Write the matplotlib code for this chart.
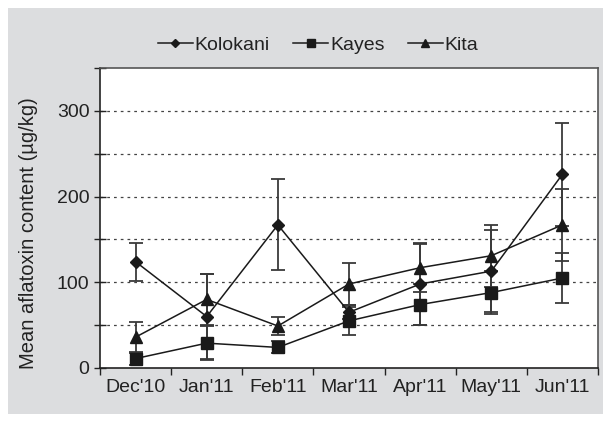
import matplotlib
matplotlib.use("Agg")
import matplotlib.pyplot as plt
from matplotlib.patches import Rectangle
import numpy as np

plt.rcParams['font.family'] = ['Liberation Sans', 'DejaVu Sans']

months = ["Dec'10", "Jan'11", "Feb'11", "Mar'11", "Apr'11", "May'11", "Jun'11"]
kolokani = [124, 60, 167, 65, 98, 113, 226]
kolokani_err = [22, 50, 53, 8, 48, 48, 60]
kayes = [11, 29, 24, 55, 74, 88, 105]
kayes_err = [8, 20, 7, 16, 24, 25, 29]
kita = [36, 80, 49, 98, 117, 131, 167]
kita_err = [18, 30, 11, 25, 28, 36, 42]

W, H = 603, 422
fig = plt.figure(figsize=(W/100, H/100), dpi=100)
fig.patch.set_facecolor('white')
fig.add_artist(Rectangle((8/W, 8/H), (W-8)/W, (H-16)/H, transform=fig.transFigure,
                         facecolor='#dcdddf', edgecolor='none', zorder=0))

ax = fig.add_axes([100/W, 1-368/H, 498/W, 300/H])
ax.set_facecolor('white')
x = np.arange(len(months))

series = [
    ("Kolokani", kolokani, kolokani_err, 'D', 6),
    ("Kayes", kayes, kayes_err, 's', 8),
    ("Kita", kita, kita_err, '^', 8),
]
for name, vals, errs, mk, ms in series:
    ax.errorbar(x, vals, yerr=errs, fmt='none', ecolor='#3a3a3a', elinewidth=1.3,
                capsize=5, capthick=1.3, zorder=3)
    ax.plot(x, vals, color='#1a1a1a', lw=1.1, marker=mk, markersize=ms,
            markerfacecolor='#1a1a1a', markeredgecolor='#1a1a1a', label=name, zorder=4)

ax.set_xlim(-0.5, 6.5)
ax.set_ylim(0, 350)
ax.set_xticks(np.arange(-0.5, 7, 1.0))
ax.set_xticklabels([])
ax.set_xticks(x, minor=True)
ax.set_xticklabels(months, minor=True)
ax.tick_params(axis='x', which='major', direction='out', length=5, width=1, color='#222')
ax.tick_params(axis='x', which='minor', length=0, labelsize=14, pad=8, colors='#222')

ax.set_yticks(np.arange(0, 351, 50))
ax.set_yticklabels(['0', '', '100', '', '200', '', '300', ''])
ax.tick_params(axis='y', direction='inout', length=8, width=1, labelsize=14, colors='#222')

for yv in range(50, 301, 50):
    ax.axhline(yv, color='#444444', lw=0.9, linestyle=(0, (2.2, 3.2)), zorder=1)

for s in ['left', 'bottom']:
    ax.spines[s].set_color('#222')
    ax.spines[s].set_linewidth(1.2)
for s in ['top', 'right']:
    ax.spines[s].set_color('#555')
    ax.spines[s].set_linewidth(1.2)

ax.set_ylabel("Mean aflatoxin content (µg/kg)", fontsize=14.5, color='#222')
ax.yaxis.set_label_coords(-62/498, 0.45)

leg = fig.legend(loc='center', bbox_to_anchor=(318/W, 1-45/H), ncol=3, frameon=False,
                 fontsize=14, handlelength=1.8, handletextpad=0.1, columnspacing=1.2,
                 markerscale=0.7)
for t in leg.get_texts():
    t.set_color('#222')

fig.savefig('out.png', dpi=100, facecolor=fig.get_facecolor())
